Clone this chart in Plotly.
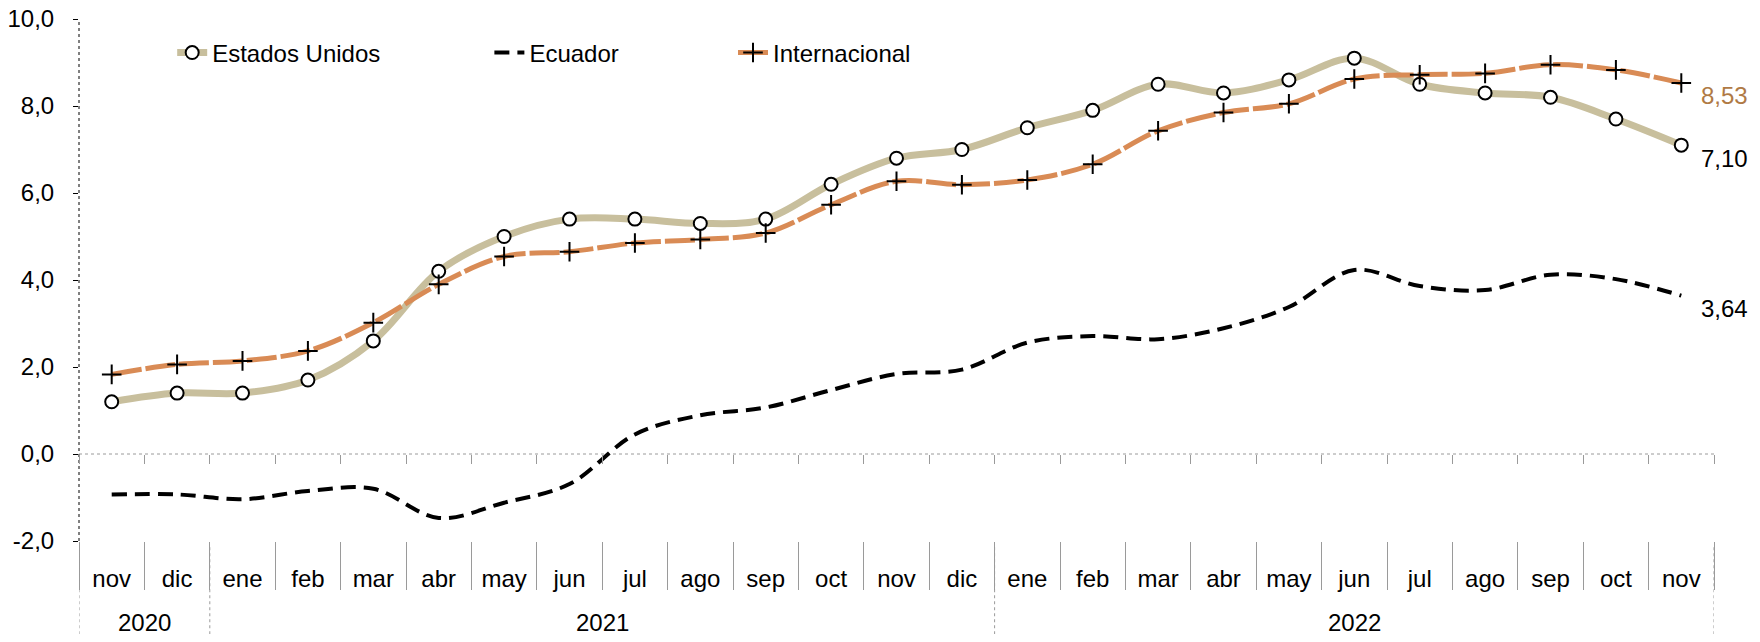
import plotly.graph_objects as go

months = ["nov", "dic", "ene", "feb", "mar", "abr", "may", "jun", "jul", "ago", "sep", "oct",
          "nov", "dic", "ene", "feb", "mar", "abr", "may", "jun", "jul", "ago", "sep", "oct", "nov"]
years = ["2020", "2020"] + ["2021"] * 12 + ["2022"] * 11

estados_unidos = [1.2, 1.4, 1.4, 1.7, 2.6, 4.2, 5.0, 5.4, 5.4, 5.3, 5.4, 6.2,
                  6.8, 7.0, 7.5, 7.9, 8.5, 8.3, 8.6, 9.1, 8.5, 8.3, 8.2, 7.7, 7.1]
ecuador = [-0.93, -0.93, -1.04, -0.85, -0.80, -1.47, -1.12, -0.69, 0.45, 0.89, 1.07, 1.47,
           1.84, 1.94, 2.56, 2.71, 2.64, 2.89, 3.38, 4.23, 3.86, 3.77, 4.12, 4.02, 3.64]
internacional = [1.83, 2.06, 2.14, 2.37, 3.02, 3.90, 4.54, 4.65, 4.85, 4.93, 5.08, 5.73,
                 6.27, 6.19, 6.30, 6.66, 7.43, 7.85, 8.05, 8.62, 8.72, 8.75, 8.95, 8.83, 8.53]

y_ticks = [-2, 0, 2, 4, 6, 8, 10]

FONT = "Liberation Sans, Arial, sans-serif"
FS = 24
C_EU = "#C8BF9D"
C_INT = "#D98B55"
C_LBL_INT = "#B07A45"
GREY = "#9a9a9a"


def fmt(v, nd):
    return f"{v:.{nd}f}".replace(".", ",")


# unique category keys (month + year), shown with month names only
cats = [f"{m} {y}" for m, y in zip(months, years)]

fig = go.Figure()
fig.add_trace(go.Scatter(
    x=cats, y=estados_unidos, name="Estados Unidos", mode="lines+markers",
    line=dict(color=C_EU, width=7, shape="spline", smoothing=1),
    marker=dict(symbol="circle", size=13, color="white", line=dict(color="black", width=2)),
    legend="legend", cliponaxis=False,
))
fig.add_trace(go.Scatter(
    x=cats, y=ecuador, name="Ecuador", mode="lines",
    line=dict(color="black", width=4, shape="spline", smoothing=1, dash="15px,8px"),
    legend="legend2", xaxis="x2", cliponaxis=False,
))
fig.add_trace(go.Scatter(
    x=cats, y=internacional, name="Internacional", mode="lines+markers",
    line=dict(color=C_INT, width=5, shape="spline", smoothing=1, dash="30px,4px"),
    marker=dict(symbol="cross-thin", size=14, color="black", line=dict(color="black", width=2)),
    legend="legend3", cliponaxis=False,
))

leg_common = dict(orientation="h", yanchor="middle", y=0.935, xanchor="left",
                  bgcolor="rgba(0,0,0,0)", font=dict(family=FONT, size=FS, color="black"))

annotations = []
# end-of-series value labels
for vals, col in [(estados_unidos, "black"), (ecuador, "black"), (internacional, C_LBL_INT)]:
    annotations.append(dict(text=fmt(vals[-1], 2), xref="x", x=cats[-1], yref="y", y=vals[-1],
                            xanchor="left", yanchor="middle", xshift=18, yshift=-13,
                            showarrow=False, font=dict(family=FONT, size=FS, color=col)))

shapes = [
    dict(type="line", xref="paper", x0=0, x1=0, yref="y", y0=y_ticks[0], y1=y_ticks[-1],
         line=dict(color="black", width=1, dash="dot"), layer="below"),
    dict(type="line", xref="paper", x0=0, x1=1, yref="y", y0=0, y1=0,
         line=dict(color=GREY, width=1, dash="dot"), layer="below"),
]
# year groups: label centred under the group, divider at each group boundary
groups = []
for i, yv in enumerate(years):
    if not groups or groups[-1][0] != yv:
        groups.append([yv, i, i])
    else:
        groups[-1][2] = i
for yv, a, b in groups:
    annotations.append(dict(text=yv, xref="x", x=(a + b) / 2, yref="paper", y=-0.157,
                            yanchor="middle", xanchor="center", showarrow=False,
                            font=dict(family=FONT, size=FS, color="black")))
bounds = sorted({g[1] - 0.5 for g in groups} | {groups[-1][2] + 0.5})
for bx in bounds:
    shapes.append(dict(type="line", xref="x", x0=bx, x1=bx, yref="paper", y0=-0.012, y1=-0.2,
                       line=dict(color=GREY, width=1, dash="dot")))

fig.update_layout(
    width=1744, height=626,
    margin=dict(l=71, r=38, t=11, b=93),
    paper_bgcolor="white", plot_bgcolor="white",
    showlegend=True,
    font=dict(family=FONT, size=FS, color="black"),
    legend=dict(x=0.057, **leg_common),
    legend2=dict(x=0.251, **leg_common),
    legend3=dict(x=0.40, **leg_common),
    xaxis=dict(
        type="category", range=[-0.5, len(cats) - 0.5], showgrid=False, zeroline=False,
        showline=False, tickmode="array", tickvals=cats, ticktext=months,
        tickson="boundaries", ticks="outside", ticklen=48, tickcolor=GREY, tickwidth=1,
        tickfont=dict(family=FONT, size=FS, color="black"),
        ticklabelstandoff=21, automargin=False,
    ),
    xaxis2=dict(
        type="category", overlaying="x", matches="x", anchor="free",
        position=(0 - y_ticks[0]) / (y_ticks[-1] - y_ticks[0]),
        showgrid=False, zeroline=False, showline=False, tickmode="array", tickvals=cats,
        tickson="boundaries", ticks="outside", ticklen=9,
        tickcolor=GREY, tickwidth=1, showticklabels=False, automargin=False,
    ),
    yaxis=dict(
        range=[y_ticks[0], y_ticks[-1]], tickvals=y_ticks,
        ticktext=[fmt(v, 1) for v in y_ticks],
        showgrid=False, zeroline=False, showline=False, ticks="outside", ticklen=5,
        tickcolor="black", tickwidth=1, tickfont=dict(family=FONT, size=FS, color="black"),
        ticklabelstandoff=14, automargin=False, ticklabeloverflow="allow",
    ),
    shapes=shapes,
    annotations=annotations,
)

fig.write_html("out.html")
